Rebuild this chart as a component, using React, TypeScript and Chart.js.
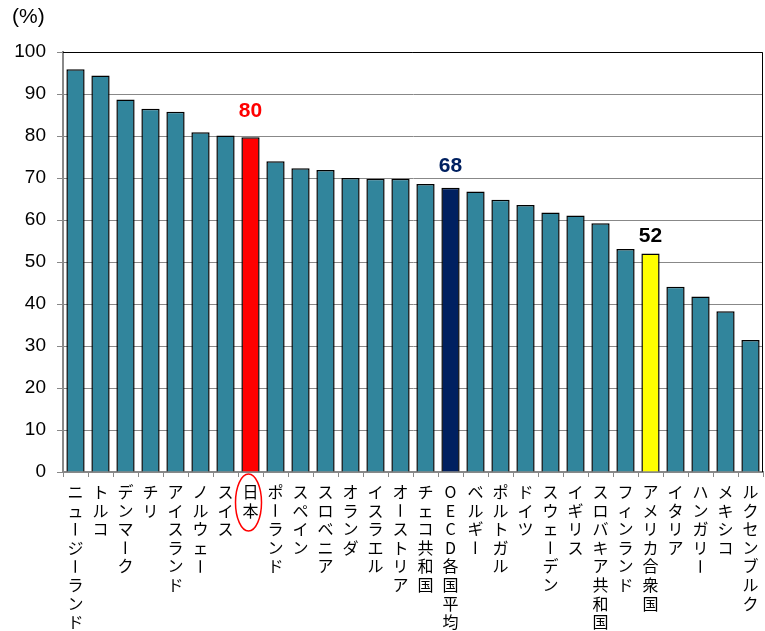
import React, { useEffect, useRef } from "react";
import { Chart, registerables } from "chart.js";

Chart.register(...registerables);

const categories = [
  "ニュージーランド", "トルコ", "デンマーク", "チリ", "アイスランド", "ノルウェー", "スイス", "日本",
  "ポーランド", "スペイン", "スロベニア", "オランダ", "イスラエル", "オーストリア", "チェコ共和国",
  "OECD各国平均", "ベルギー", "ポルトガル", "ドイツ", "スウェーデン", "イギリス", "スロバキア共和国",
  "フィンランド", "アメリカ合衆国", "イタリア", "ハンガリー", "メキシコ", "ルクセンブルク",
];

const values = [
  95.9, 94.4, 88.7, 86.5, 85.8, 80.9, 80.1, 79.7, 74.0, 72.3, 71.9, 70.0, 69.8, 69.8,
  68.6, 67.7, 66.8, 64.8, 63.6, 61.8, 61.1, 59.2, 53.1, 52.0, 44.1, 41.8, 38.3, 31.4,
];

const highlightNames = ["日本", "OECD各国平均", "アメリカ合衆国"];
const highlightColors = ["#FF0000", "#002060", "#FFFF00"];
const labelTexts = ["80", "68", "52"];
const labelColors = ["#FF0000", "#002060", "#000000"];
const labelGaps = [20, 16, 12];

const yTicks = [0, 10, 20, 30, 40, 50, 60, 70, 80, 90, 100];
const unitLabel = "(%)";

const BASE = "#31859C";
const NUM_FONT = "'Liberation Sans', Arial, sans-serif";
const JP_FONT = "'Noto Sans CJK JP', sans-serif";

const extrasPlugin = {
  id: "extras",
  afterDraw(chart: any) {
    const ctx = chart.ctx;
    const ca = chart.chartArea;
    const xs = chart.scales.x;
    const ys = chart.scales.y;
    ctx.save();
    // top & right border
    ctx.strokeStyle = "#000";
    ctx.lineWidth = 1;
    ctx.beginPath();
    ctx.moveTo(ca.left, ys.getPixelForValue(100) + 0.5);
    ctx.lineTo(ca.right - 0.5, ys.getPixelForValue(100) + 0.5);
    ctx.lineTo(ca.right - 0.5, ca.bottom);
    ctx.stroke();

    // unit label
    ctx.fillStyle = "#000";
    ctx.font = `21px ${NUM_FONT}`;
    ctx.textAlign = "left";
    ctx.textBaseline = "middle";
    ctx.fillText(unitLabel, ca.left - 51, ca.top - 35);

    // value labels
    highlightNames.forEach((name, k) => {
      const i = categories.indexOf(name);
      const x = xs.getPixelForValue(i);
      const y = ys.getPixelForValue(values[i]);
      ctx.font = `bold 21px ${NUM_FONT}`;
      ctx.textAlign = "center";
      ctx.textBaseline = "alphabetic";
      ctx.fillStyle = labelColors[k];
      ctx.fillText(labelTexts[k], x, y - labelGaps[k]);
    });

    // vertical category labels
    ctx.font = `16px ${JP_FONT}`;
    ctx.fillStyle = "#000";
    ctx.textAlign = "center";
    ctx.textBaseline = "middle";
    categories.forEach((name, i) => {
      const x = xs.getPixelForValue(i);
      const chars = Array.from(name);
      chars.forEach((ch, j) => {
        const y = ca.bottom + 20 + j * 18.6;
        if (ch === "ー") {
          ctx.save();
          ctx.translate(x, y);
          ctx.rotate(Math.PI / 2);
          ctx.fillText(ch, 0, 0);
          ctx.restore();
        } else {
          ctx.fillText(ch, x, y);
        }
      });
    });

    // red ellipse around Japan
    const ji = categories.indexOf("日本");
    const jx = xs.getPixelForValue(ji) - 2;
    ctx.strokeStyle = "#FF0000";
    ctx.lineWidth = 1.5;
    ctx.beginPath();
    ctx.ellipse(jx, ca.bottom + 30.5, 13, 28.5, 0, 0, Math.PI * 2);
    ctx.stroke();
    ctx.restore();
  },
};

export default function App() {
  const ref = useRef<HTMLCanvasElement | null>(null);
  useEffect(() => {
    if (!ref.current) return;
    const colors = categories.map((c) => {
      const k = highlightNames.indexOf(c);
      return k >= 0 ? highlightColors[k] : BASE;
    });
    const chart = new Chart(ref.current, {
      type: "bar",
      data: {
        labels: categories,
        datasets: [
          {
            data: values,
            backgroundColor: colors,
            borderColor: "#000",
            borderWidth: 1.5,
            barPercentage: 0.73,
            categoryPercentage: 1,
          },
        ],
      },
      options: {
        animation: false,
        responsive: true,
        maintainAspectRatio: false,
        layout: { padding: { top: 52, right: 2, left: 0, bottom: 0 } },
        plugins: { legend: { display: false }, tooltip: { enabled: false } },
        scales: {
          x: {
            afterFit: (s: any) => {
              s.height = 159;
            },
            ticks: { display: false },
            grid: {
              display: true,
              drawOnChartArea: false,
              offset: true,
              tickLength: 5,
              color: "#888",
            },
            border: { color: "#888", width: 2 },
          },
          y: {
            min: 0,
            max: 100,
            afterFit: (s: any) => {
              s.width = 63;
            },
            afterBuildTicks: (s: any) => {
              s.ticks = yTicks.map((v) => ({ value: v }));
            },
            ticks: {
              color: "#000",
              font: { family: NUM_FONT, size: 19 },
              padding: 11,
            },
            grid: {
              color: "#888",
              lineWidth: 1,
              tickLength: 6,
            },
            border: { color: "#888", width: 2 },
          },
        },
      },
      plugins: [extrasPlugin],
    });
    return () => chart.destroy();
  }, []);
  return (
    <div style={{ position: "fixed", left: 0, top: 0, width: 765, height: 631, background: "#fff" }}>
      <canvas ref={ref} />
    </div>
  );
}
